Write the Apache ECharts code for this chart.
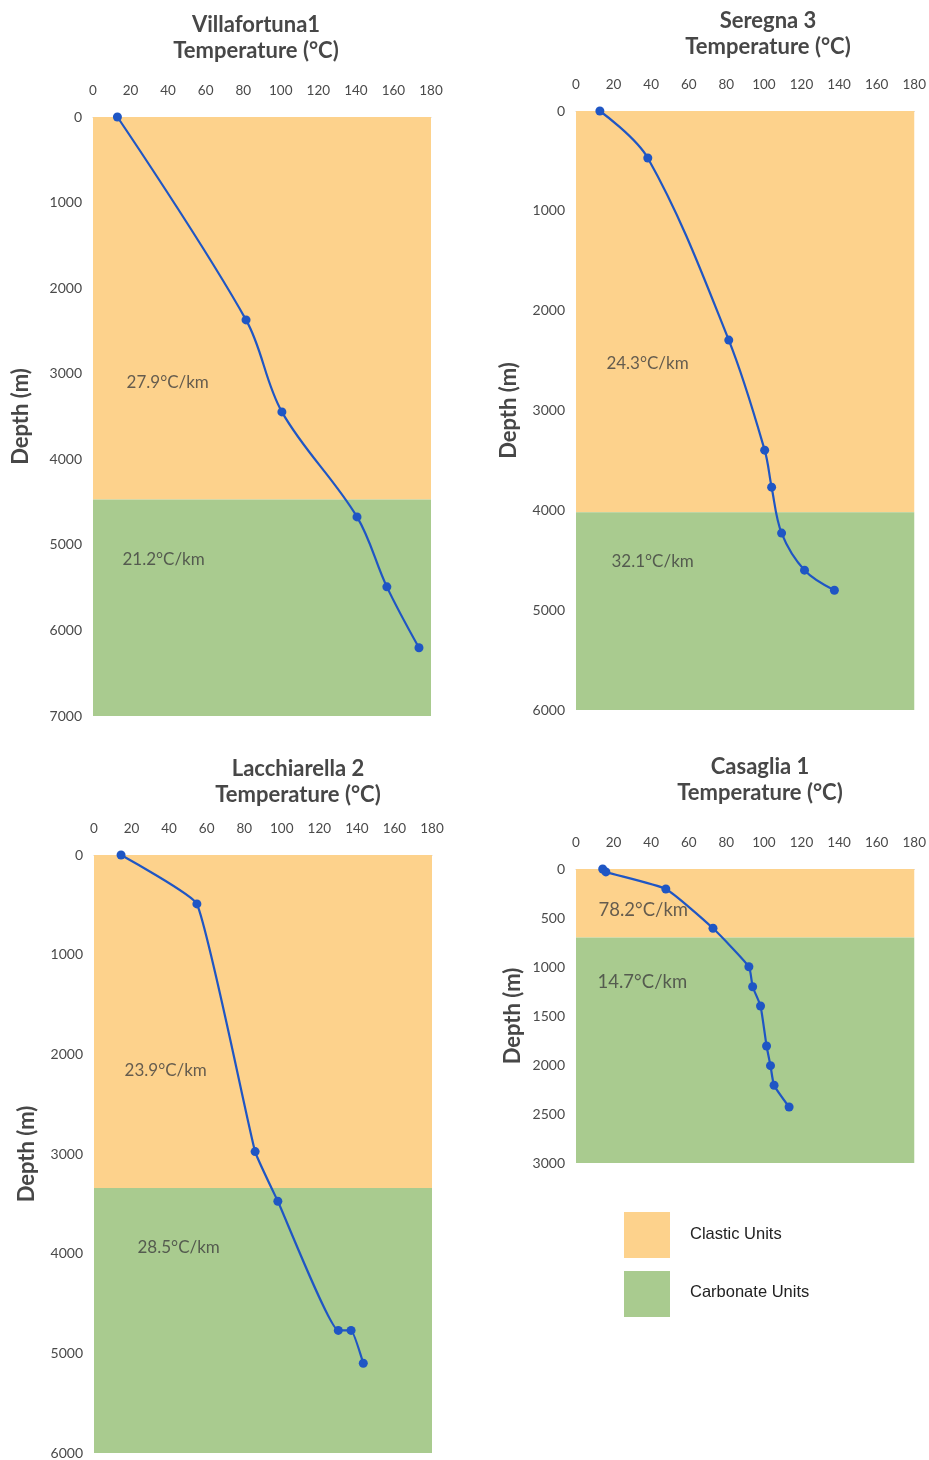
<!DOCTYPE html>
<html>
<head>
<meta charset="utf-8">
<title>Well temperature profiles</title>
<script src="https://cdn.jsdelivr.net/npm/echarts@6/dist/echarts.min.js"></script>
<style>
  html, body { margin: 0; padding: 0; background: #fff; }
  #chart { width: 929px; height: 1460px; }
</style>
</head>
<body>
<div id="chart"></div>
<script>
// well names, one panel each
var wells = ['Villafortuna1', 'Seregna 3', 'Lacchiarella 2', 'Casaglia 1'];

// measured temperature (°C) vs depth (m)
var villaTemp = [13, 81.5, 100.6, 140.6, 156.5, 173.6];
var villaDepth = [0, 2371, 3446, 4673, 5491, 6203];
var seregnaTemp = [12.7, 38.2, 81.3, 100.4, 104.1, 109.4, 121.6, 137.5];
var seregnaDepth = [0, 471, 2295, 3397, 3768, 4228, 4599, 4800];
var lacchTemp = [14.4, 54.8, 85.8, 97.9, 130.1, 136.9, 143.4];
var lacchDepth = [0, 491, 2976, 3474, 4770, 4770, 5100];
var casagliaTemp = [14.2, 15.9, 47.8, 72.9, 92, 94, 98.2, 101.4, 103.5, 105.4, 113.4];
var casagliaDepth = [0, 30, 204, 605, 997, 1201, 1398, 1806, 2007, 2207, 2429];

// base of clastic units (m), below it carbonate units down to axis max
var clasticBase = [4470, 4020, 3340, 700];
var depthMax = [7000, 6000, 6000, 3000];
var depthStep = [1000, 1000, 1000, 500];
var tempTicks = [0, 20, 40, 60, 80, 100, 120, 140, 160, 180];

// geothermal gradient annotations: text, anchor temperature, anchor depth
var gradientText = [['27.9°C/km', '21.2°C/km'], ['24.3°C/km', '32.1°C/km'], ['23.9°C/km', '28.5°C/km'], ['78.2°C/km', '14.7°C/km']];
var gradientTemp = [[17.6, 15.4], [15.9, 18.6], [16, 22.9], [11.7, 11.2]];
var gradientDepth = [[3107, 5175], [2525, 4509], [2164, 3938], [418, 1153]];

var unitNames = ['Clastic Units', 'Carbonate Units'];

var temps = [villaTemp, seregnaTemp, lacchTemp, casagliaTemp];
var depths = [villaDepth, seregnaDepth, lacchDepth, casagliaDepth];

var ORANGE = '#FDD28C';
var GREEN = '#A9CB8F';
var BLUE = '#1F56C4';
var TEXT = '#4a4a4a';
var FONT = 'Lato, "Open Sans", sans-serif';

var grids = [
  { left: 93, top: 117, width: 338, height: 599 },
  { left: 576, top: 111, width: 339, height: 599 },
  { left: 94, top: 855, width: 338, height: 599 },
  { left: 576, top: 869, width: 339, height: 294 }
];
var titlePos = [[251, 7], [763, 3], [293, 751], [755, 749]];
var nameGaps = [61, 56, 56, 52];
var gradFont = [17, 17, 17, 18.5];
var smoothness = [0.35, 0.35, 0.12, 0.15];

var titles = [], xAxes = [], yAxes = [], series = [];

for (var i = 0; i < 4; i++) {
  titles.push({
    text: wells[i] + '\nTemperature (°C)',
    left: titlePos[i][0],
    top: titlePos[i][1],
    textAlign: 'center',
    textStyle: { fontFamily: FONT, fontSize: 22, fontWeight: 'bold', color: '#474747', lineHeight: 26 }
  });

  xAxes.push({
    gridIndex: i,
    type: 'value',
    position: 'top',
    min: tempTicks[0],
    max: tempTicks[tempTicks.length - 1],
    interval: tempTicks[1] - tempTicks[0],
    axisLine: { show: true, lineStyle: { color: '#c9cfdc', width: 1 } },
    axisTick: { show: false },
    splitLine: { show: false },
    axisLabel: { margin: 19, fontFamily: FONT, fontSize: 13.5, color: TEXT }
  });

  yAxes.push({
    gridIndex: i,
    type: 'value',
    inverse: true,
    min: 0,
    max: depthMax[i],
    interval: depthStep[i],
    name: 'Depth (m)',
    nameLocation: 'middle',
    nameGap: nameGaps[i],
    nameRotate: 90,
    nameTextStyle: { fontFamily: FONT, fontSize: 22, fontWeight: 'bold', color: '#474747' },
    axisLine: { show: false },
    axisTick: { show: false },
    splitLine: { show: false },
    axisLabel: {
      margin: 11, fontFamily: FONT, fontSize: 14, color: TEXT,
      formatter: function (v) { return String(v); }
    }
  });

  // unit bands behind the profile
  series.push({
    type: 'line',
    name: unitNames[0],
    xAxisIndex: i,
    yAxisIndex: i,
    data: [],
    silent: true,
    markArea: {
      silent: true,
      itemStyle: { color: ORANGE },
      data: [[{ yAxis: 0, xAxis: tempTicks[0] }, { yAxis: clasticBase[i], xAxis: tempTicks[tempTicks.length - 1] }]]
    }
  });
  series.push({
    type: 'line',
    name: unitNames[1],
    xAxisIndex: i,
    yAxisIndex: i,
    data: [],
    silent: true,
    markArea: {
      silent: true,
      itemStyle: { color: GREEN },
      data: [[{ yAxis: clasticBase[i], xAxis: tempTicks[0] }, { yAxis: depthMax[i], xAxis: tempTicks[tempTicks.length - 1] }]]
    }
  });

  var pts = temps[i].map(function (t, k) { return [t, depths[i][k]]; });
  series.push({
    type: 'line',
    name: wells[i],
    xAxisIndex: i,
    yAxisIndex: i,
    data: pts,
    smooth: smoothness[i],
    symbol: 'circle',
    symbolSize: 9,
    lineStyle: { color: BLUE, width: 2.2 },
    itemStyle: { color: BLUE },
    z: 5
  });

  var labels = gradientText[i].map(function (txt, k) {
    return { value: [gradientTemp[i][k], gradientDepth[i][k]], name: txt };
  });
  series.push({
    type: 'scatter',
    xAxisIndex: i,
    yAxisIndex: i,
    data: labels,
    symbolSize: 1,
    itemStyle: { color: 'rgba(0,0,0,0)' },
    silent: true,
    label: {
      show: true,
      position: 'right',
      distance: 0,
      formatter: '{b}',
      fontFamily: FONT,
      fontSize: gradFont[i],
      color: '#3f3f3f'
    },
    z: 6
  });
}

var chart = echarts.init(document.getElementById('chart'));
chart.setOption({
  backgroundColor: '#ffffff',
  animation: false,
  title: titles,
  grid: grids,
  xAxis: xAxes,
  yAxis: yAxes,
  series: series,
  graphic: [
    { type: 'rect', left: 624, top: 1212, shape: { width: 46, height: 46 }, style: { fill: ORANGE } },
    { type: 'rect', left: 624, top: 1271, shape: { width: 46, height: 46 }, style: { fill: GREEN } },
    { type: 'text', left: 690, top: 1226, style: { text: unitNames[0], font: '16.5px "Liberation Sans", Arial, sans-serif', fill: '#222' } },
    { type: 'text', left: 690, top: 1284, style: { text: unitNames[1], font: '16.5px "Liberation Sans", Arial, sans-serif', fill: '#222' } }
  ]
});
</script>
</body>
</html>
